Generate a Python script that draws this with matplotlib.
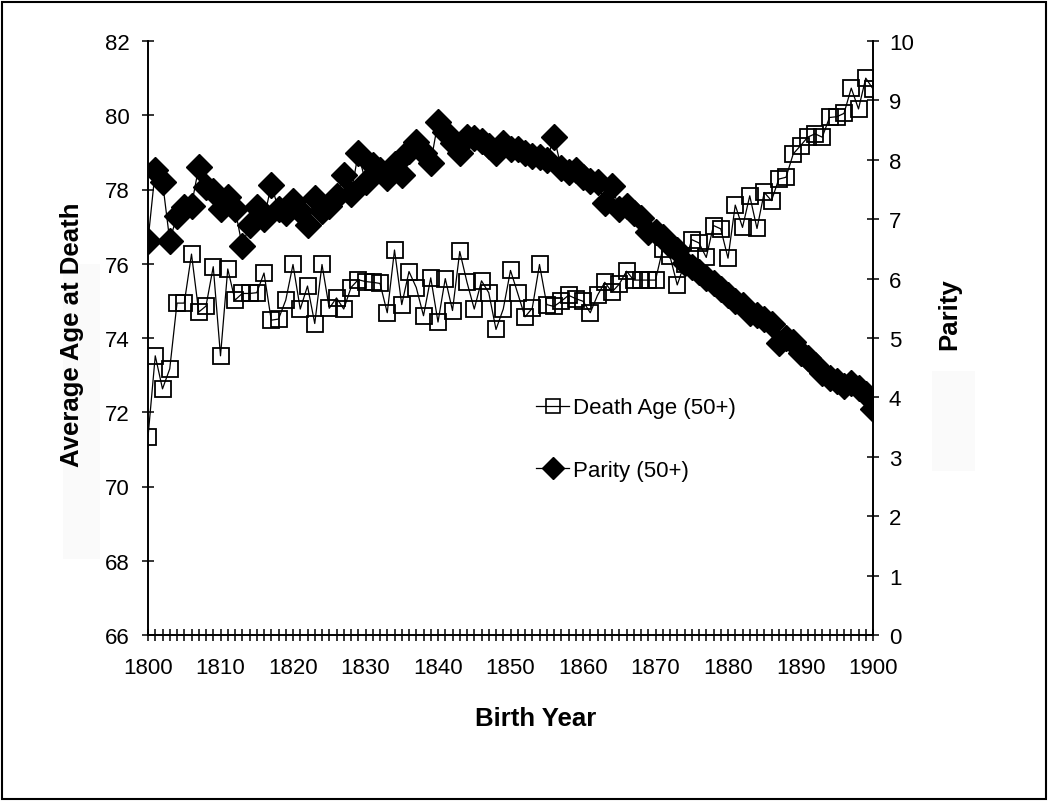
import matplotlib.pyplot as plt
import numpy as np
from matplotlib.patches import Rectangle
from matplotlib.lines import Line2D

plt.rcParams["font.family"] = ["Liberation Sans", "DejaVu Sans"]

years = np.arange(1800, 1901)

death_age = [
    71.33, 73.52, 72.63, 73.17, 74.94, 74.94, 76.26, 74.70, 74.86, 75.92,
    73.52, 75.86, 75.02, 75.20, 75.20, 75.22, 75.75, 74.48, 74.51, 75.02,
    75.98, 74.78, 75.40, 74.39, 75.98, 74.80, 75.08, 74.78, 75.36, 75.57,
    75.52, 75.50, 75.47, 74.68, 76.37, 74.90, 75.79, 75.36, 74.60, 75.62,
    74.43, 75.60, 74.74, 76.33, 75.50, 74.78, 75.54, 75.22, 74.23, 74.78,
    75.82, 75.20, 74.57, 74.80, 75.98, 74.90, 74.85, 74.99, 75.15, 75.06,
    74.99, 74.68, 75.15, 75.50, 75.24, 75.45, 75.80, 75.56, 75.56, 75.56,
    75.56, 76.40, 76.20, 75.43, 76.00, 76.65, 76.56, 76.17, 77.03, 76.94,
    76.15, 77.58, 76.98, 77.83, 76.95, 77.92, 77.70, 78.28, 78.33, 78.96,
    79.18, 79.41, 79.50, 79.41, 79.94, 79.96, 80.05, 80.73, 80.17, 81.00,
    80.71,
]

parity = [
    6.64, 7.82, 7.63, 6.64, 7.06, 7.20, 7.23, 7.88, 7.55, 7.48,
    7.17, 7.37, 7.17, 6.55, 6.90, 7.20, 7.00, 7.58, 7.17, 7.10,
    7.30, 7.13, 6.91, 7.35, 7.13, 7.22, 7.39, 7.74, 7.42, 8.11,
    7.63, 7.91, 7.82, 7.69, 7.93, 7.74, 8.15, 8.30, 8.12, 7.95,
    8.64, 8.47, 8.28, 8.12, 8.38, 8.37, 8.31, 8.23, 8.12, 8.28,
    8.18, 8.18, 8.12, 8.06, 8.04, 7.99, 8.38, 7.87, 7.80, 7.82,
    7.71, 7.65, 7.62, 7.28, 7.56, 7.17, 7.22, 7.10, 7.02, 6.78,
    6.78, 6.70, 6.57, 6.48, 6.27, 6.20, 6.11, 6.01, 5.92, 5.82,
    5.72, 5.62, 5.55, 5.42, 5.38, 5.32, 5.23, 4.91, 5.00, 4.94,
    4.75, 4.67, 4.54, 4.41, 4.32, 4.28, 4.19, 4.25, 4.15, 4.05,
    3.80,
]

W, H = 1050, 804
fig = plt.figure(figsize=(W / 100, H / 100), dpi=100)

# faint scan marks behind everything, and the outer frame
for x0, y0, x1, y1 in [(63, 265, 100, 560), (932, 372, 975, 472)]:
    fig.patches.append(Rectangle((x0 / W, 1 - y1 / H), (x1 - x0) / W, (y1 - y0) / H,
                                 transform=fig.transFigure, facecolor="#fafafa",
                                 edgecolor="none", zorder=-1))
fig.patches.append(Rectangle((2 / W, 1 - 800 / H), 1044 / W, 797 / H,
                             transform=fig.transFigure, fill=False,
                             edgecolor="black", linewidth=1.5, zorder=5))

ax = fig.add_axes([148 / W, 1 - 636 / H, 725 / W, 594 / H])
ax.patch.set_visible(False)
ax2 = ax.twinx()

ax.plot(years, death_age, color="black", linewidth=0.9, marker="s",
        markersize=12, markerfacecolor="none", markeredgecolor="black",
        markeredgewidth=1.3)
ax2.plot(years, parity, color="black", linewidth=0.9, marker="D",
         markersize=13, markerfacecolor="black", markeredgecolor="black")

ax.set_xlim(1800, 1900)
ax.set_ylim(66, 82)
ax.set_yticks(np.arange(66, 83, 2))
ax.set_xticks(np.arange(1800, 1901, 10))
ax.set_xticks(years, minor=True)
ax2.set_ylim(0, 10)
ax2.set_yticks(np.arange(0, 11, 1))

for a in (ax, ax2):
    a.spines["top"].set_visible(False)
    a.spines[:].set_linewidth(1.2)
ax.tick_params(axis="both", which="both", direction="inout", length=9,
               width=1.1, labelsize=16)
ax.tick_params(axis="x", which="major", pad=11)
ax.tick_params(axis="y", pad=9)
ax2.tick_params(axis="y", direction="inout", length=9, width=1.1,
                labelsize=16, pad=7)

ax.set_xlabel("Birth Year", fontsize=18.5, fontweight="bold")
ax.xaxis.set_label_coords(0.535, -0.12)
ax.set_ylabel("Average Age at Death", fontsize=18.5, fontweight="bold")
ax.yaxis.set_label_coords(-0.088, 0.507)
ax2.set_ylabel("Parity", fontsize=18.5, fontweight="bold")
ax2.yaxis.set_label_coords(1.088, 0.542)

handles = [
    Line2D([], [], color="black", linewidth=0.9, marker="s", markersize=9.5,
           markerfacecolor="none", markeredgewidth=1.2),
    Line2D([], [], color="black", linewidth=0.9, marker="D", markersize=11.5,
           markerfacecolor="black"),
]
ax2.legend(handles, ["Death Age (50+)", "Parity (50+)"], loc="upper left",
           bbox_to_anchor=(0.535, 0.40), frameon=False, fontsize=16,
           handlelength=1.5, handletextpad=0.15, labelspacing=1.85,
           borderpad=0, borderaxespad=0)

fig.savefig("out.png", dpi=100)
